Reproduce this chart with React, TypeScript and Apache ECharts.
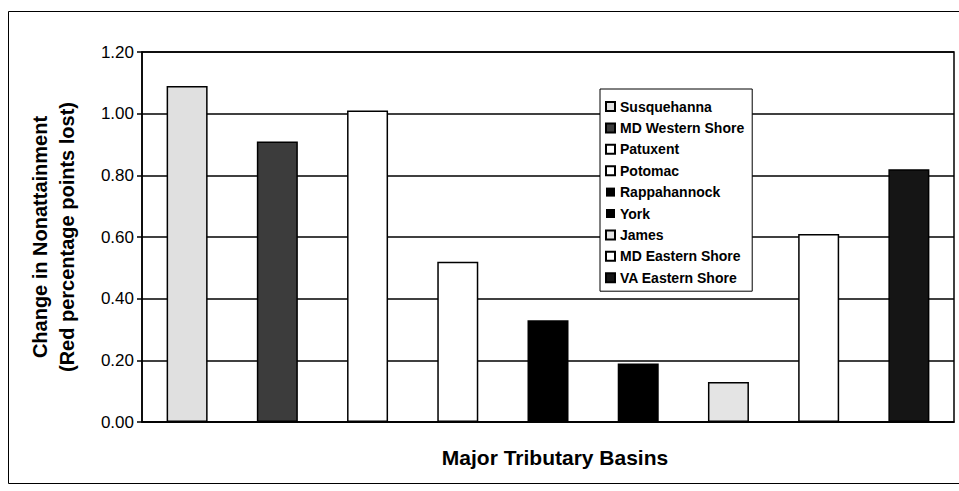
import React, { useEffect, useRef } from "react";
import * as echarts from "echarts";

const categories = [
  "Susquehanna",
  "MD Western Shore",
  "Patuxent",
  "Potomac",
  "Rappahannock",
  "York",
  "James",
  "MD Eastern Shore",
  "VA Eastern Shore",
];
const values = [1.09, 0.91, 1.01, 0.52, 0.33, 0.19, 0.13, 0.61, 0.82];
const fills = ["#e0e0e0", "#3c3c3c", "#ffffff", "#ffffff", "#000000", "#000000", "#e4e4e4", "#ffffff", "#151515"];
const yTicks = [0, 0.2, 0.4, 0.6, 0.8, 1.0, 1.2];

export default function App() {
  const ref = useRef<HTMLDivElement>(null);
  useEffect(() => {
    document.body.style.margin = "0";
    if (!ref.current) return;
    const chart = echarts.init(ref.current, undefined, { renderer: "svg" });
    const font = "Liberation Sans, Arial, sans-serif";
    const series = categories.map((name, i) => ({
      name,
      type: "bar" as const,
      barWidth: 41,
      barGap: "-100%",
      data: categories.map((_, j) => (j === i ? values[i] : "-")),
      itemStyle: {
        color: fills[i],
        borderColor: "#000",
        borderWidth: fills[i] === "#000000" ? 0 : 1.5,
      },
    }));
    chart.setOption({
      animation: false,
      backgroundColor: "#ffffff",
      textStyle: { fontFamily: font, color: "#000" },
      graphic: [
        {
          type: "rect",
          shape: { x: 8.5, y: 11.5, width: 960, height: 472 },
          style: { fill: "none", stroke: "#000", lineWidth: 1 },
          silent: true,
        },
      ],
      grid: {
        left: 142,
        right: 5,
        top: 52,
        bottom: 69,
        show: true,
        borderColor: "#000",
        borderWidth: 1.5,
        backgroundColor: "transparent",
      },
      legend: {
        orient: "vertical",
        left: 600,
        top: 89,
        data: categories,
        icon: "rect",
        itemWidth: 9,
        itemHeight: 9,
        itemGap: 6.4,
        padding: [10, 8, 6, 5],
        backgroundColor: "#fff",
        borderColor: "#000",
        borderWidth: 1,
        textStyle: {
          fontFamily: font,
          fontSize: 14,
          fontWeight: "bold",
          color: "#000",
          lineHeight: 15,
        },
      },
      xAxis: {
        type: "category",
        data: categories,
        axisLabel: { show: false },
        axisTick: { show: false },
        axisLine: { show: true, lineStyle: { color: "#000", width: 1.5 } },
        name: "Major Tributary Basins",
        nameLocation: "middle",
        nameGap: 25,
        nameTextStyle: {
          fontFamily: font,
          fontSize: 21,
          fontWeight: "bold",
          color: "#000",
          padding: [0, 0, 0, 14],
        },
      },
      yAxis: {
        type: "value",
        min: yTicks[0],
        max: yTicks[yTicks.length - 1],
        interval: 0.2,
        axisLabel: {
          formatter: (v: number) => v.toFixed(2),
          fontFamily: font,
          fontSize: 17,
          color: "#000",
          margin: 8,
        },
        axisLine: { show: true, lineStyle: { color: "#000", width: 1.5 } },
        axisTick: { show: true, length: 5, lineStyle: { color: "#000", width: 1.5 } },
        splitLine: { show: true, lineStyle: { color: "#000", width: 1.5 } },
        name: "Change in Nonattainment\n(Red percentage points lost)",
        nameLocation: "middle",
        nameRotate: 90,
        nameGap: 62,
        nameTextStyle: {
          fontFamily: font,
          fontSize: 20,
          fontWeight: "bold",
          color: "#000",
          lineHeight: 27,
          align: "center",
        },
      },
      series,
    });
    return () => chart.dispose();
  }, []);
  return <div ref={ref} style={{ width: 959, height: 491 }} />;
}
